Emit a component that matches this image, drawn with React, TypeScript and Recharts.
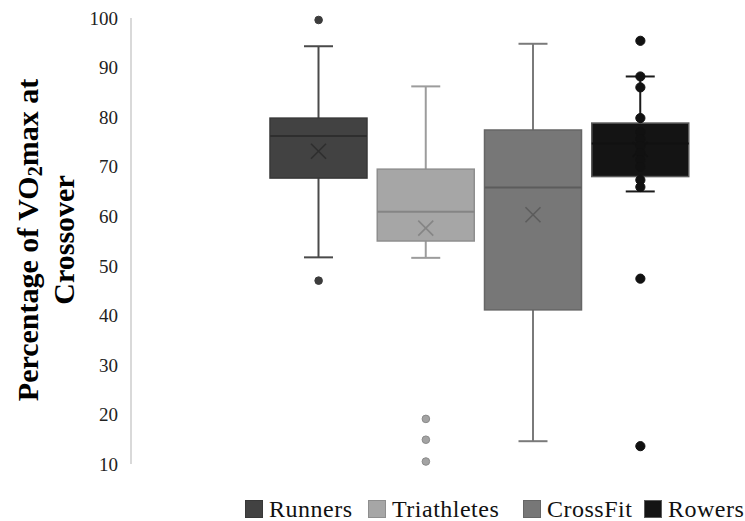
import React from 'react';
import { ComposedChart, Bar, Scatter, XAxis, YAxis, Label } from 'recharts';

const SERIF = 'Liberation Serif, Times New Roman, Times, DejaVu Serif, serif';

const groups = ['Runners', 'Triathletes', 'CrossFit', 'Rowers'];
const whiskerLow = [51.7, 51.6, 14.6, 65.0];
const q1 = [67.7, 55.0, 41.1, 68.0];
const median = [76.2, 60.9, 65.8, 74.7];
const q3 = [79.8, 69.5, 77.4, 78.8];
const whiskerHigh = [94.3, 86.2, 94.8, 88.2];
const means = [73.1, 57.6, 60.3, 73.5];

const runnersPoints = [99.6, 47.0];
const triathletesPoints = [19.1, 14.9, 10.5];
const crossfitPoints: number[] = [];
const rowersPoints = [95.4, 88.2, 86.0, 79.8, 77.0, 75.6, 74.2, 72.8, 71.4, 70.0, 67.3, 65.9, 47.4, 13.6];

const yTicks = [10, 20, 30, 40, 50, 60, 70, 80, 90, 100];

const STYLE: Record<string, { fill: string; border: string; line: string; mark: string; dot: string; dotStroke: string; r: number }> = {
  Runners: { fill: '#424242', border: '#383838', line: '#4a4a4a', mark: '#2e2e2e', dot: '#3c3c3c', dotStroke: '#3c3c3c', r: 3.8 },
  Triathletes: { fill: '#a6a6a6', border: '#8e8e8e', line: '#9c9c9c', mark: '#858585', dot: '#a3a3a3', dotStroke: '#8a8a8a', r: 3.8 },
  CrossFit: { fill: '#777777', border: '#666666', line: '#7a7a7a', mark: '#5c5c5c', dot: '#777777', dotStroke: '#666666', r: 3.8 },
  Rowers: { fill: '#141414', border: '#5a5a5a', line: '#1a1a1a', mark: '#111111', dot: '#111111', dotStroke: '#111111', r: 4.6 },
};

const legendLeft = [245, 368, 523, 644];

const boxData = groups.map((name, i) => ({
  name,
  range: [whiskerLow[i], whiskerHigh[i]],
  q1: q1[i],
  median: median[i],
  q3: q3[i],
  mean: means[i],
}));

const pointData = [
  ...runnersPoints.map(v => ({ name: 'Runners', value: v })),
  ...triathletesPoints.map(v => ({ name: 'Triathletes', value: v })),
  ...crossfitPoints.map(v => ({ name: 'CrossFit', value: v })),
  ...rowersPoints.map(v => ({ name: 'Rowers', value: v })),
];

// draws the whole box from the [low, high] range bar the library positions
const BoxShape = (props: any) => {
  const { x, y, width, height, payload } = props;
  const top = Math.min(y, y + height);
  const h = Math.abs(height);
  const [lo, hi] = payload.range;
  const py = (v: number) => top + ((hi - v) / (hi - lo)) * h;
  const s = STYLE[payload.name];
  const cx = x + width / 2;
  const cap = 29;
  const yq3 = py(payload.q3);
  const yq1 = py(payload.q1);
  const ym = py(payload.mean);
  const xs = 7.5;
  return (
    <g>
      <line x1={cx} x2={cx} y1={top} y2={yq3} stroke={s.line} strokeWidth={2} />
      <line x1={cx} x2={cx} y1={yq1} y2={top + h} stroke={s.line} strokeWidth={2} />
      <line x1={cx - cap / 2} x2={cx + cap / 2} y1={top} y2={top} stroke={s.line} strokeWidth={2} />
      <line x1={cx - cap / 2} x2={cx + cap / 2} y1={top + h} y2={top + h} stroke={s.line} strokeWidth={2} />
      <rect x={x} y={yq3} width={width} height={yq1 - yq3} fill={s.fill} stroke={s.border} strokeWidth={1.5} />
      <line x1={x} x2={x + width} y1={py(payload.median)} y2={py(payload.median)} stroke={s.mark} strokeWidth={2} />
      <line x1={cx - xs} x2={cx + xs} y1={ym - xs} y2={ym + xs} stroke={s.mark} strokeWidth={1.6} />
      <line x1={cx - xs} x2={cx + xs} y1={ym + xs} y2={ym - xs} stroke={s.mark} strokeWidth={1.6} />
    </g>
  );
};

const DotShape = (props: any) => {
  const { cx, cy, payload } = props;
  const s = STYLE[payload.name];
  return <circle cx={cx} cy={cy} r={s.r} fill={s.dot} stroke={s.dotStroke} strokeWidth={1} />;
};

const YTitle = () => (
  <g style={{ fontFamily: SERIF }} fontWeight="bold" fontSize={30} fill="#000">
    <text transform="translate(27,240) rotate(-90)" textAnchor="middle" dominantBaseline="central">
      <tspan>Percentage of VO</tspan>
      <tspan fontSize={20} dy={8}>2</tspan>
      <tspan dy={-8}>max at</tspan>
    </text>
    <text transform="translate(63,240) rotate(-90)" textAnchor="middle" dominantBaseline="central">
      Crossover
    </text>
  </g>
);

export default function App() {
  return (
    <div style={{ position: 'absolute', left: 0, top: 0, width: 745, height: 521, background: '#fff', fontFamily: SERIF }}>
      <ComposedChart width={745} height={521} data={boxData} margin={{ top: 18, right: 10, bottom: 57, left: 0 }}>
        <XAxis dataKey="name" type="category" allowDuplicatedCategory={false} hide padding={{ left: 134, right: 41 }} />
        <YAxis
          type="number"
          domain={[10, 100]}
          ticks={yTicks}
          width={131}
          tickLine={false}
          tickMargin={7}
          axisLine={{ stroke: '#d9d9d9', strokeWidth: 2 }}
          tick={{ fontSize: 19, fill: '#222', style: { fontFamily: SERIF } }}
        >
          <Label content={<YTitle />} />
        </YAxis>
        <Bar dataKey="range" barSize={97} shape={<BoxShape />} isAnimationActive={false} legendType="none" />
        <Scatter data={pointData} dataKey="value" shape={<DotShape />} isAnimationActive={false} legendType="none" />
      </ComposedChart>
      {groups.map((g, i) => (
        <div
          key={g}
          style={{ position: 'absolute', left: legendLeft[i], top: 494, height: 30, display: 'flex', alignItems: 'center', fontSize: 24, letterSpacing: 0.5, color: '#111', whiteSpace: 'nowrap' }}
        >
          <span style={{ display: 'inline-block', width: 16, height: 16, background: STYLE[g].fill, border: `1px solid ${STYLE[g].border}`, marginRight: 6 }} />
          <span>{g}</span>
        </div>
      ))}
    </div>
  );
}
